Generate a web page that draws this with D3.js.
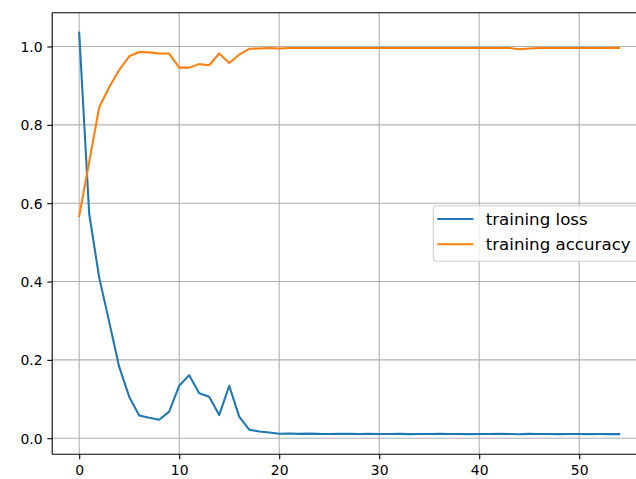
<!DOCTYPE html>
<html>
<head>
<meta charset="utf-8">
<script src="https://cdn.jsdelivr.net/npm/d3@7"></script>
<style>
  html, body { margin: 0; padding: 0; background: #fff; }
  svg { display: block; }
  text { font-family: "DejaVu Sans", sans-serif; }
</style>
</head>
<body>
<div id="chart"></div>
<script>
// ---- data ----
const epochs = [0,1,2,3,4,5,6,7,8,9,10,11,12,13,14,15,16,17,18,19,20,21,22,23,24,25,26,27,28,29,30,31,32,33,34,35,36,37,38,39,40,41,42,43,44,45,46,47,48,49,50,51,52,53,54];
const trainingLoss = [1.035,0.573,0.41,0.297,0.182,0.106,0.058,0.052,0.047,0.068,0.134,0.161,0.115,0.106,0.059,0.134,0.055,0.022,0.017,0.0145,0.0115,0.012,0.0112,0.0118,0.011,0.0108,0.0112,0.011,0.0108,0.011,0.0106,0.0108,0.011,0.0105,0.0106,0.0108,0.0112,0.0108,0.0106,0.0105,0.0108,0.0106,0.011,0.0108,0.0102,0.0112,0.0106,0.0108,0.0105,0.0108,0.0106,0.0105,0.0106,0.0105,0.0104];
const trainingAccuracy = [0.567,0.705,0.845,0.896,0.940,0.975,0.986,0.985,0.982,0.982,0.946,0.946,0.955,0.952,0.982,0.958,0.979,0.994,0.995,0.996,0.995,0.996,0.996,0.996,0.996,0.996,0.996,0.996,0.996,0.996,0.996,0.996,0.996,0.996,0.996,0.996,0.996,0.996,0.996,0.996,0.996,0.996,0.996,0.996,0.993,0.995,0.996,0.996,0.996,0.996,0.996,0.996,0.996,0.996,0.996];
const xTicks = [0,10,20,30,40,50];
const yTicks = [0.0,0.2,0.4,0.6,0.8,1.0];
const seriesNames = ["training loss", "training accuracy"];
const seriesColors = ["#1f77b4", "#ff7f0e"];

// ---- layout ----
const W = 636, H = 479;
const plot = { left: 52.2, top: 12.7, right: 646.2, bottom: 454.3 };

const svg = d3.select("#chart").append("svg")
  .attr("width", W).attr("height", H);

// matplotlib-style 5% margins
const xMin = d3.min(epochs), xMax = d3.max(epochs);
const xPad = (xMax - xMin) * 0.05;
const allY = trainingLoss.concat(trainingAccuracy);
const yMin = d3.min(allY), yMax = d3.max(allY);
const yPad = (yMax - yMin) * 0.05;

const x = d3.scaleLinear().domain([xMin - xPad, xMax + xPad]).range([plot.left, plot.right]);
const y = d3.scaleLinear().domain([yMin - yPad, yMax + yPad]).range([plot.bottom, plot.top]);

// grid
const grid = svg.append("g");
grid.selectAll("line.gx").data(xTicks).enter().append("line")
  .attr("x1", d => x(d)).attr("x2", d => x(d))
  .attr("y1", plot.top).attr("y2", plot.bottom)
  .attr("stroke", "#b0b0b0").attr("stroke-width", 1.1);
grid.selectAll("line.gy").data(yTicks).enter().append("line")
  .attr("y1", d => y(d)).attr("y2", d => y(d))
  .attr("x1", plot.left).attr("x2", plot.right)
  .attr("stroke", "#b0b0b0").attr("stroke-width", 1.1);

// lines
const line = d3.line().x((d, i) => x(epochs[i])).y(d => y(d));
[trainingLoss, trainingAccuracy].forEach((s, i) => {
  svg.append("path").datum(s)
    .attr("d", line)
    .attr("fill", "none")
    .attr("stroke", seriesColors[i])
    .attr("stroke-width", 2.08)
    .attr("stroke-linejoin", "round")
    .attr("stroke-linecap", "square");
});

// spines
svg.append("line").attr("x1", plot.left).attr("x2", plot.left).attr("y1", plot.top).attr("y2", plot.bottom)
  .attr("stroke", "#000").attr("stroke-width", 1.1);
svg.append("line").attr("x1", plot.left).attr("x2", plot.right).attr("y1", plot.bottom).attr("y2", plot.bottom)
  .attr("stroke", "#000").attr("stroke-width", 1.1);
svg.append("line").attr("x1", plot.left).attr("x2", plot.right).attr("y1", plot.top).attr("y2", plot.top)
  .attr("stroke", "#000").attr("stroke-width", 1.1);

// axes
const xAxis = d3.axisBottom(x).tickValues(xTicks).tickFormat(d3.format("d")).tickSize(4.86).tickPadding(4.86);
const gx = svg.append("g").attr("transform", `translate(0,${plot.bottom})`).call(xAxis);
gx.select(".domain").remove();
gx.selectAll(".tick line").attr("stroke", "#000").attr("stroke-width", 1.1);
gx.selectAll(".tick text").attr("font-size", 13.9).attr("fill", "#000")
  .attr("font-family", "DejaVu Sans").attr("dy", "0.78em");

const yAxis = d3.axisLeft(y).tickValues(yTicks).tickFormat(d3.format(".1f")).tickSize(4.86).tickPadding(4.86);
const gy = svg.append("g").attr("transform", `translate(${plot.left},0)`).call(yAxis);
gy.select(".domain").remove();
gy.selectAll(".tick line").attr("stroke", "#000").attr("stroke-width", 1.1);
gy.selectAll(".tick text").attr("font-size", 13.9).attr("fill", "#000")
  .attr("font-family", "DejaVu Sans").attr("dy", "0.36em");

// legend
const lg = svg.append("g");
lg.append("rect")
  .attr("x", 433.3).attr("y", 205.7).attr("width", 206).attr("height", 55.6)
  .attr("rx", 3.3).attr("ry", 3.3)
  .attr("fill", "#fff").attr("fill-opacity", 0.8)
  .attr("stroke", "#cccccc").attr("stroke-width", 1.1);
seriesNames.forEach((name, i) => {
  const yy = 219 + i * 25.3;
  lg.append("line").attr("x1", 438.3).attr("x2", 472.3).attr("y1", yy).attr("y2", yy)
    .attr("stroke", seriesColors[i]).attr("stroke-width", 2.08).attr("stroke-linecap", "square");
  lg.append("text").attr("x", 485.7).attr("y", yy).attr("dy", "0.36em")
    .attr("font-size", 16.67).attr("fill", "#000").text(name);
});
</script>
</body>
</html>
